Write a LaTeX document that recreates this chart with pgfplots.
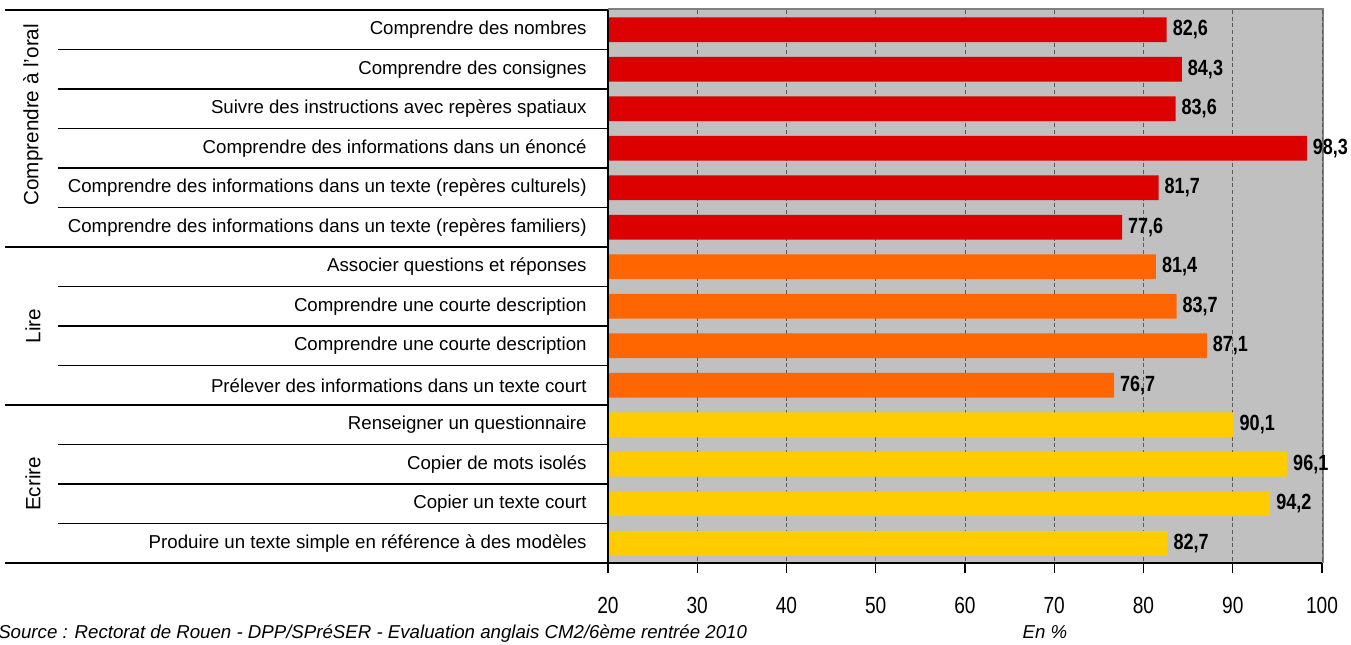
\documentclass[border=0pt]{standalone}
\usepackage{pgfplots}
\pgfplotsset{compat=1.18}
\usepackage{pgfplotstable}
\usetikzlibrary{calc}
\usepackage{fontspec}
\setmainfont{Liberation Sans}
\newfontfamily\narrowfont[FakeStretch=0.82]{Liberation Sans}
\definecolor{cred}{HTML}{DD0000}
\definecolor{corange}{HTML}{FF6600}
\definecolor{cyellow}{HTML}{FFCC00}
\definecolor{bg}{HTML}{C0C0C0}
\definecolor{bord}{HTML}{808080}

\pgfplotstableread{
y v
0 82.6
1 84.3
2 83.6
3 98.3
4 81.7
5 77.6
}\tabred
\pgfplotstableread{
y v
6 81.4
7 83.7
8 87.1
9 76.7
}\taborange
\pgfplotstableread{
y v
10 90.1
11 96.1
12 94.2
13 82.7
}\tabyellow

\begin{document}
\begin{tikzpicture}
\useasboundingbox (-456pt,-61.5pt) rectangle (557.25pt,422.25pt);
% gray top/right frame drawn first so that value labels lie on top
\draw[bord, line width=3.2pt] (0pt,414.75pt) -- (535.5pt,414.75pt) -- (535.5pt,0pt);
\begin{axis}[
  at={(0,0)}, anchor=south west,
  scale only axis, width=535.5pt, height=414.75pt,
  xmin=20, xmax=100, ymin=-0.5, ymax=13.5, y dir=reverse,
  xtick={20,30,...,100}, xtick pos=bottom, tick align=outside,
  major tick length=7.5pt,
  x tick style={black, line width=1pt},
  ytick={0,...,13}, y tick style={draw=none},
  yticklabels={
    Comprendre des nombres,
    Comprendre des consignes,
    Suivre des instructions avec repères spatiaux,
    Comprendre des informations dans un énoncé,
    Comprendre des informations dans un texte (repères culturels),
    Comprendre des informations dans un texte (repères familiers),
    Associer questions et réponses,
    Comprendre une courte description,
    Comprendre une courte description,
    Prélever des informations dans un texte court,
    Renseigner un questionnaire,
    Copier de mots isolés,
    Copier un texte court,
    Produire un texte simple en référence à des modèles},
  yticklabel style={font=\fontsize{14}{16}\selectfont, xshift=-5pt},
  /pgf/number format/assume math mode=true,
  xticklabel style={font=\narrowfont\fontsize{17.5}{20}\selectfont, yshift=-14.5pt},
  xmajorgrids,
  grid style={densely dashed, black!65, line width=0.6pt},
  axis background/.style={fill=bg},
  axis line style={draw=none},
  xbar, bar width=0.63,
  nodes near coords={\pgfmathprintnumber[assume math mode=true,use comma,fixed,fixed zerofill,precision=1]{\pgfplotspointmeta}},
  every node near coord/.append style={text=black, anchor=west, xshift=1pt,
     font=\narrowfont\bfseries\fontsize{16.5}{19}\selectfont},
]
\addplot[fill=cred, draw=none, bar shift=0pt] table[x=v, y=y] {\tabred};
\addplot[fill=corange, draw=none, bar shift=0pt] table[x=v, y=y] {\taborange};
\addplot[fill=cyellow, draw=none, bar shift=0pt] table[x=v, y=y] {\tabyellow};
\coordinate (T) at (axis cs:20,-0.5);
\coordinate (B) at (axis cs:20,13.5);
\coordinate (TR) at (axis cs:100,-0.5);
\coordinate (BR) at (axis cs:100,13.5);
\end{axis}
% black left and bottom frame
\draw[black, line width=1.4pt] (T) -- (B) -- (BR);
% separators
\foreach \k in {0,6,10,14} {
  \draw[black, line width=1.4pt] ($(T)!\k/14!(B)$) -- ++(-452.25pt,0);
}
\foreach \k in {1,2,3,4,5,7,8,9,11,12,13} {
  \draw[black, line width=1.4pt] ($(T)!\k/14!(B)$) -- ++(-412.5pt,0);
}
\node[rotate=90, font=\fontsize{15.5}{18}\selectfont] at ($($(T)!2.65/14!(B)$)+(-431.25pt,0)$) {Comprendre à l'oral};
\node[rotate=90, font=\fontsize{15.5}{18}\selectfont] at ($($(T)!8/14!(B)$)+(-431.25pt,0)$) {Lire};
\node[rotate=90, font=\fontsize{15.5}{18}\selectfont] at ($($(T)!12/14!(B)$)+(-431.25pt,0)$) {Ecrire};
% source and unit
\node[anchor=base west, inner sep=0pt, font=\itshape\fontsize{14}{16}\selectfont] at ($(B)+(-457.5pt,-57pt)$) {Source : Rectorat de Rouen - DPP/SPréSER - Evaluation anglais CM2/6ème rentrée 2010};
\node[anchor=base, inner sep=0pt, font=\itshape\fontsize{14}{16}\selectfont] at ($(B)+(327.75pt,-57pt)$) {En \%};
\end{tikzpicture}
\end{document}
